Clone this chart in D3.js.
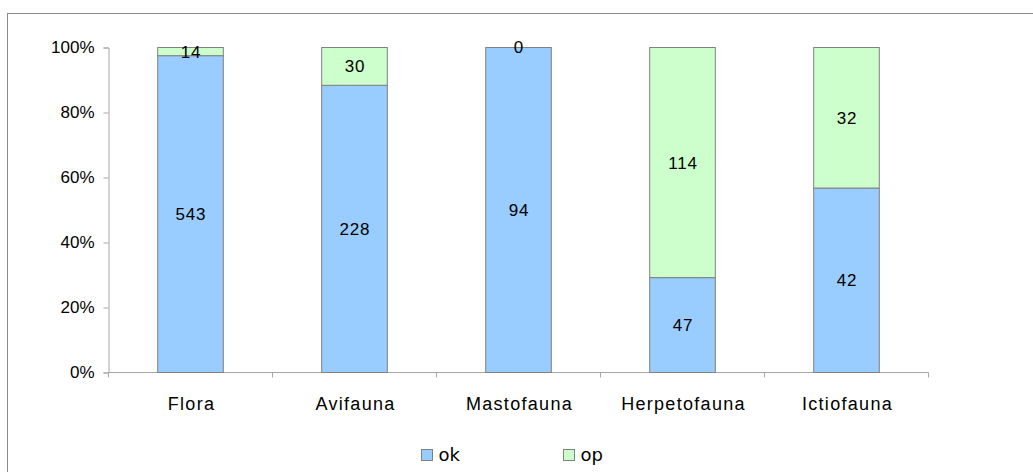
<!DOCTYPE html>
<html>
<head>
<meta charset="utf-8">
<script src="https://cdn.jsdelivr.net/npm/d3@7"></script>
<style>
  html, body { margin: 0; padding: 0; background: #fff; }
  svg { display: block; font-family: Arial, "Liberation Sans", sans-serif; }
</style>
</head>
<body>
<svg id="chart" width="1033" height="472"></svg>
<script>
// Species counts per group, split by status
const categories = ["Flora", "Avifauna", "Mastofauna", "Herpetofauna", "Ictiofauna"];
const okValues = [543, 228, 94, 47, 42];
const opValues = [14, 30, 0, 114, 32];
const seriesNames = ["ok", "op"];
const seriesColors = ["#99CCFF", "#CCFFCC"];
const yTicks = [0, 0.2, 0.4, 0.6, 0.8, 1];

const svg = d3.select("#chart");

// outer frame
svg.append("rect")
  .attr("x", 7.5).attr("y", 13.5)
  .attr("width", 1040).attr("height", 480)
  .attr("fill", "#fff").attr("stroke", "#8c8c8c").attr("stroke-width", 1);

const plot = { left: 108.5, right: 928.5, top: 47.5, bottom: 372.5 };

const x = d3.scaleBand().domain(categories).range([plot.left, plot.right]).paddingInner(0.6).paddingOuter(0.3);
const xOuter = d3.scaleBand().domain(categories).range([plot.left, plot.right]);
const y = d3.scaleLinear().domain([0, 1]).range([plot.bottom, plot.top]);

const rows = categories.map((c, i) => ({ cat: c, ok: okValues[i], op: opValues[i] }));
const stack = d3.stack().keys(seriesNames).offset(d3.stackOffsetExpand);
const layers = stack(rows);

// y axis
const yAxis = svg.append("g").attr("transform", `translate(${plot.left},0)`)
  .call(d3.axisLeft(y).tickValues(yTicks).tickFormat(d3.format(".0%")).tickSize(5).tickPadding(9));
yAxis.select(".domain").attr("stroke", "#a6a6a6");
yAxis.selectAll(".tick line").attr("stroke", "#a6a6a6");
yAxis.selectAll(".tick text").attr("font-size", 17).attr("fill", "#000")
  .attr("font-family", "Arial, 'Liberation Sans', sans-serif");

// x axis baseline with ticks at category boundaries
const xg = svg.append("g");
xg.append("line").attr("x1", plot.left).attr("x2", plot.right)
  .attr("y1", plot.bottom).attr("y2", plot.bottom).attr("stroke", "#a6a6a6");
const bounds = categories.map(c => xOuter(c)).concat([plot.right]);
xg.selectAll("line.tk").data(bounds).join("line").attr("class", "tk")
  .attr("x1", d => d).attr("x2", d => d)
  .attr("y1", plot.bottom).attr("y2", plot.bottom + 5).attr("stroke", "#a6a6a6");
xg.selectAll("text").data(categories).join("text")
  .attr("x", d => x(d) + x.bandwidth() / 2 + 1)
  .attr("y", plot.bottom + 37)
  .attr("text-anchor", "middle").attr("font-size", 18).attr("fill", "#000")
  .attr("letter-spacing", 1.3)
  .text(d => d);

// stacked bars
layers.forEach((layer, li) => {
  const g = svg.append("g");
  g.selectAll("rect").data(layer).join("rect")
    .attr("x", d => x(d.data.cat))
    .attr("width", x.bandwidth())
    .attr("y", d => y(d[1]))
    .attr("height", d => y(d[0]) - y(d[1]))
    .attr("fill", seriesColors[li])
    .attr("stroke", "#808080").attr("stroke-width", 1);
});

// value labels centred in each segment
layers.forEach((layer, li) => {
  svg.append("g").selectAll("text").data(layer).join("text")
    .attr("x", d => x(d.data.cat) + x.bandwidth() / 2 + 0.5)
    .attr("y", d => (y(d[0]) + y(d[1])) / 2)
    .attr("dy", "0.35em")
    .attr("text-anchor", "middle").attr("font-size", 17).attr("fill", "#000")
    .attr("letter-spacing", 0.8)
    .text(d => d.data[seriesNames[li]]);
});

// legend
const legendX = [421.5, 563.5];
const lg = svg.append("g");
seriesNames.forEach((s, i) => {
  lg.append("rect").attr("x", legendX[i]).attr("y", 449.5).attr("width", 11).attr("height", 11)
    .attr("fill", seriesColors[i]).attr("stroke", "#808080");
  lg.append("text").attr("x", legendX[i] + 17).attr("y", 461)
    .attr("font-size", 18).attr("fill", "#000")
    .attr("font-family", "'DejaVu Sans', sans-serif")
    .text(s);
});
</script>
</body>
</html>
